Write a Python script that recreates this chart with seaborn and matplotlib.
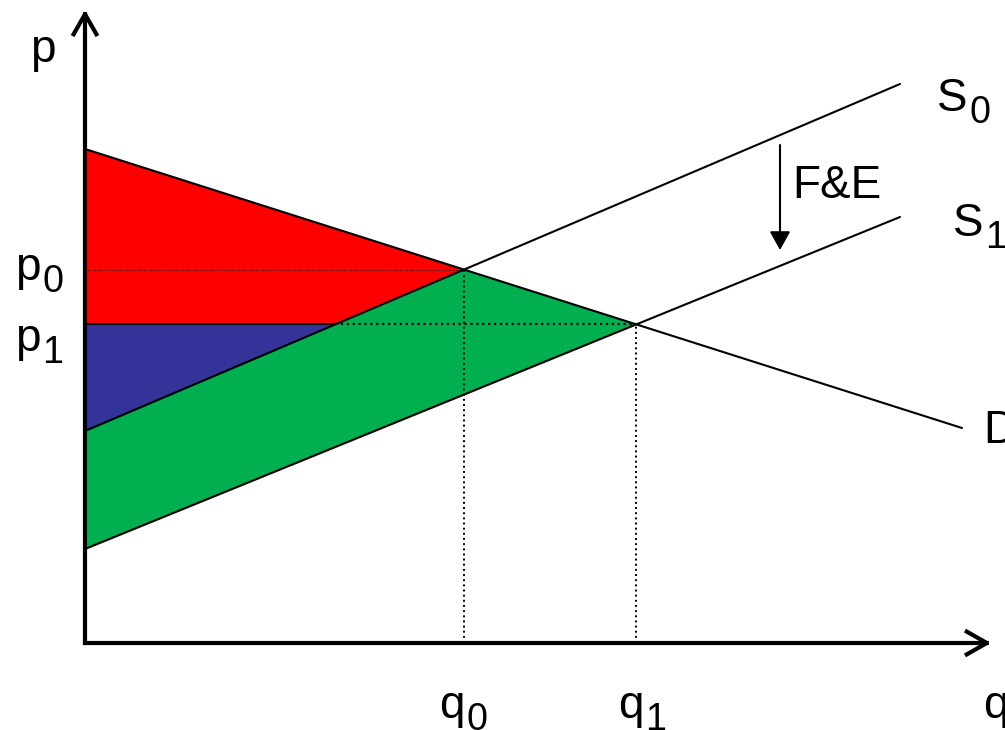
import numpy as np
import matplotlib
matplotlib.use("Agg")
import matplotlib.pyplot as plt
import seaborn as sns
from matplotlib.patches import FancyArrowPatch

# curve end points (quantity, price)
demand_q = [0.0, 8.77]
demand_p = [4.94, 2.15]
supply0_q = [0.0, 8.15]
supply0_p = [2.12, 5.59]
supply1_q = [0.0, 8.15]
supply1_p = [0.94, 4.26]

# area colours
surplus_colors = {"red": "#FF0000", "blue": "#333399", "green": "#00B050"}


def line_coef(qs, ps):
    m = (ps[1] - ps[0]) / (qs[1] - qs[0])
    return m, ps[0] - m * qs[0]


def crossing(qa, pa, qb, pb):
    ma, ba = line_coef(qa, pa)
    mb, bb = line_coef(qb, pb)
    q = (bb - ba) / (ma - mb)
    return q, ma * q + ba


def sub_label(ax, x, y, main, sub, size=33):
    """Main letter with a smaller, lowered subscript next to it."""
    t = ax.text(x, y, main, fontsize=size, color="black", ha="left", va="baseline")
    if sub:
        ax.annotate(sub, xy=(1, 0), xycoords=t, xytext=(1.5, -7.0),
                    textcoords="offset points", fontsize=size * 0.82,
                    color="black", ha="left", va="bottom")
    return t


q0, p0 = crossing(demand_q, demand_p, supply0_q, supply0_p)
q1, p1 = crossing(demand_q, demand_p, supply1_q, supply1_p)
m0, b0 = line_coef(supply0_q, supply0_p)
q_mid = (p1 - b0) / m0

sns.set_theme(style="white")
plt.rcParams["font.family"] = ["Liberation Sans", "DejaVu Sans"]
plt.rcParams["text.color"] = "black"

fig = plt.figure(figsize=(10.05, 7.3), dpi=100)
ax = fig.add_axes([0, 0, 1, 1])
ax.set_xlim(-0.85, 9.20)
ax.set_ylim(-0.87, 6.43)
ax.axis("off")

# shaded areas
red = [(0, demand_p[0]), (q0, p0), (q_mid, p1), (0, p1)]
blue = [(0, p1), (q_mid, p1), (0, supply0_p[0])]
green = [(0, supply0_p[0]), (q0, p0), (q1, p1), (0, supply1_p[0])]
for poly, c in [(red, "red"), (blue, "blue"), (green, "green")]:
    xs, ys = zip(*poly)
    ax.fill(xs, ys, color=surplus_colors[c], lw=0, zorder=1)

# guide lines
ax.hlines(p0, 0, q0, colors="black", linestyles=":", lw=0.8, zorder=2)
ax.hlines(p1, 0, q_mid, colors="black", lw=1.5, zorder=2)
ax.hlines(p1, q_mid, q1, colors="black", linestyles=":", lw=1.6, zorder=2)
ax.vlines(q0, 0, p0, colors="black", linestyles=":", lw=1.4, zorder=2)
ax.vlines(q1, 0, p1, colors="black", linestyles=":", lw=1.4, zorder=2)

# demand and supply curves
for qs, ps in [(demand_q, demand_p), (supply0_q, supply0_p), (supply1_q, supply1_p)]:
    sns.lineplot(x=qs, y=ps, ax=ax, color="black", lw=1.5, zorder=3)

# axes with open arrow heads
for tip in [(9.06, 0), (0, 6.33)]:
    ax.add_patch(FancyArrowPatch((0, 0), tip, arrowstyle="->,head_length=0.72,head_width=0.41",
                                 mutation_scale=20, lw=3, color="black",
                                 shrinkA=0, shrinkB=0, capstyle="projecting", zorder=4))

# shift arrow
ax.add_patch(FancyArrowPatch((6.95, 4.98), (6.95, 3.93),
                             arrowstyle="-|>,head_length=0.45,head_width=0.25",
                             mutation_scale=25, lw=1.5, color="black",
                             shrinkA=0, shrinkB=0, zorder=4))

# labels
sub_label(ax, -0.55, 5.81, "p", "")
sub_label(ax, -0.70, 3.63, "p", "0")
sub_label(ax, -0.70, 2.92, "p", "1")
sub_label(ax, 3.54, -0.75, "q", "0")
sub_label(ax, 5.33, -0.75, "q", "1")
sub_label(ax, 8.98, -0.75, "q", "")
sub_label(ax, 8.52, 5.32, "S", "0")
sub_label(ax, 8.68, 4.07, "S", "1")
sub_label(ax, 8.98, 2.00, "D", "")
sub_label(ax, 7.07, 4.45, "F&E", "")

fig.savefig("out.png", dpi=100)
plt.close(fig)
